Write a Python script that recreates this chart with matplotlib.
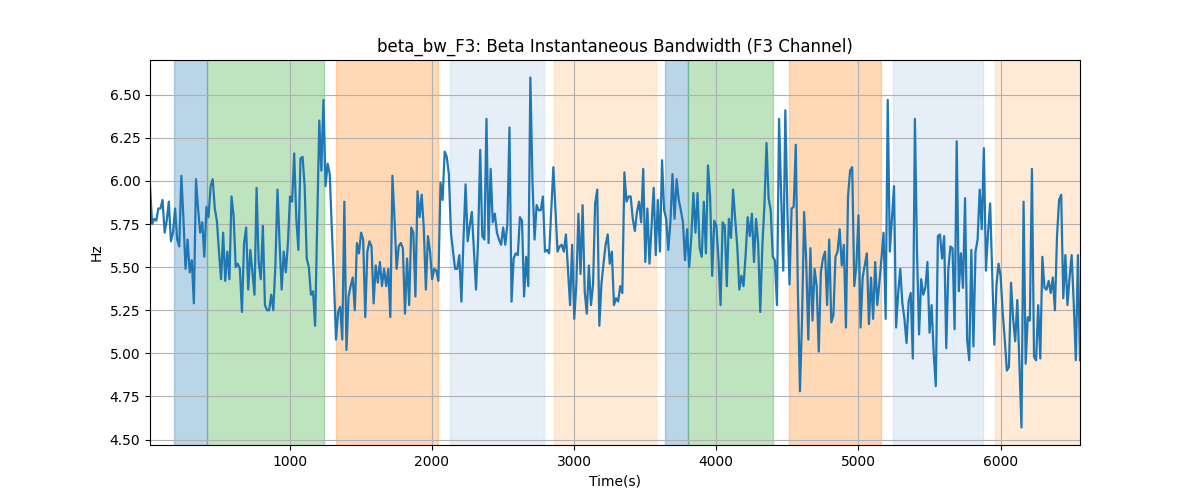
import numpy as np
import matplotlib
matplotlib.use("Agg")
import matplotlib.pyplot as plt

# ---- data ----
time_start = 17.0
time_step = 14.7

bandwidth_hz = [
    # segment 1
    5.97, 5.75, 5.78, 5.77, 5.84, 5.84, 5.89, 5.70, 5.77, 5.88, 5.65, 5.70, 5.84, 5.66, 5.62,
    6.03, 5.78, 5.49, 5.66, 5.47, 5.54, 5.29, 6.01, 5.84, 5.70, 5.76, 5.56, 5.85, 5.79, 5.97,
    6.01, 5.84, 5.77, 5.59, 5.43, 5.70, 5.42, 5.59, 5.43, 5.91, 5.80, 5.50, 5.52, 5.49, 5.24,
    5.64, 5.73, 5.37, 5.60, 5.47, 5.34, 5.96, 5.53, 5.43, 5.74,
    # segment 2
    5.28, 5.25, 5.25, 5.34, 5.25, 5.51, 5.95, 5.64, 5.37, 5.59, 5.47, 5.64, 5.91, 5.88, 6.16,
    5.78, 5.60, 6.13, 6.14, 5.97, 5.55, 5.50, 5.34, 5.36, 5.16, 5.74, 6.35, 6.06, 6.47, 5.97,
    6.10, 6.04, 5.72, 5.43, 5.08, 5.24, 5.27, 5.08, 5.88, 5.02, 5.33, 5.39, 5.44, 5.25, 5.64,
    5.58, 5.70, 5.66, 5.21, 5.59, 5.65, 5.62, 5.29, 5.51,
    # segment 3
    5.41, 5.53, 5.39, 5.49, 5.39, 5.49, 5.21, 6.03, 5.78, 5.49, 5.62, 5.64, 5.61, 5.23, 5.55,
    5.28, 5.73, 5.70, 5.33, 5.94, 5.79, 5.92, 5.73, 5.37, 5.68, 5.59, 5.43, 5.49, 5.48, 5.42,
    5.99, 5.89, 6.17, 6.14, 6.04, 5.70, 5.59, 5.49, 5.49, 5.57, 5.30, 5.66, 5.98, 5.65, 5.74,
    5.82, 5.60, 5.37, 5.66, 6.18, 5.68, 5.66, 6.36, 5.64, 6.07, 5.76, 5.81, 5.70, 5.66,
    # segment 4
    5.63, 5.73, 5.63, 5.75, 6.31, 5.30, 5.55, 5.58, 5.57, 5.79, 5.77, 5.33, 5.56, 5.39, 6.60,
    6.00, 5.66, 5.86, 5.83, 5.83, 5.91, 5.59, 5.60, 5.58, 5.83, 6.08, 5.83, 5.59, 5.62, 5.63,
    5.59, 5.69, 5.48, 5.28, 5.63, 5.20, 5.40, 5.81, 5.46, 5.86, 5.36, 5.23, 5.51, 5.28, 5.40,
    5.87, 5.95, 5.16, 5.40, 5.52, 5.63, 5.69, 5.52, 5.59, 5.28, 5.32,
    # segment 5
    5.30, 5.39, 5.35, 6.05, 5.88, 5.91, 5.91, 5.78, 5.71, 5.82, 5.88, 5.76, 6.07, 5.53, 5.84,
    5.52, 5.74, 5.96, 5.57, 5.89, 5.59, 6.12, 5.83, 5.78, 5.60, 5.76, 6.04, 5.78, 6.01, 5.89,
    5.83, 5.76, 5.54, 5.72, 5.50, 5.67, 5.93, 5.70, 5.93, 5.61, 5.56, 5.88, 5.58, 6.09, 5.91,
    5.45, 5.77, 5.74, 5.55, 5.28, 5.76, 5.74, 5.39, 5.78, 5.67, 5.95,
    # segment 6
    5.78, 5.62, 5.37, 5.45, 5.39, 5.57, 5.79, 5.68, 5.81, 5.53, 5.78, 5.64, 5.24, 5.62, 5.86,
    6.22, 5.90, 5.83, 5.56, 5.54, 5.28, 6.36, 5.93, 5.48, 6.41, 5.82, 5.40, 5.84, 5.85, 6.21,
    5.37, 4.78, 5.20, 5.82, 5.53, 5.08, 5.61, 5.19, 5.49, 5.39, 5.01, 5.47, 5.55, 5.59, 5.28,
    5.66, 5.18, 5.22, 5.56, 5.59, 5.72, 5.51, 5.63, 5.15, 5.91, 6.06,
    # segment 7
    6.08, 5.39, 5.51, 5.80, 5.15, 5.44, 5.51, 5.58, 5.17, 5.44, 5.20, 5.53, 5.28, 5.41, 5.55,
    5.70, 5.20, 6.47, 5.59, 5.78, 5.97, 5.15, 5.35, 5.49, 5.29, 5.20, 5.06, 5.30, 5.35, 4.97,
    6.36, 5.59, 5.11, 5.43, 5.34, 5.38, 5.53, 5.12, 5.28, 5.00, 4.81, 5.68, 5.69, 5.55, 5.68,
    5.03, 5.49, 5.62, 5.61, 5.14, 6.23, 5.36, 5.58, 5.38, 5.90,
    # segment 8
    5.08, 4.96, 5.60, 5.04, 5.59, 5.66, 5.95, 5.72, 6.19, 5.48, 5.70, 5.87, 5.45, 5.05, 5.39,
    5.52, 5.45, 5.24, 5.08, 4.90, 4.92, 5.41, 5.20, 5.07, 5.31, 4.93, 4.57, 5.88, 4.94, 5.21,
    5.19, 6.07, 4.98, 4.96, 5.28, 4.97, 5.56, 5.38, 5.37, 5.42, 5.35, 5.44, 5.25, 5.68, 5.89,
    5.92, 5.32, 5.57, 5.28, 5.44, 5.57, 5.29, 4.96, 5.57, 4.96,
]

span_starts = [185, 419, 1323, 2124, 2861, 3640, 3804, 4511, 5241, 5958]
span_ends = [419, 1239, 2044, 2791, 3577, 3804, 4397, 5162, 5873, 6600]
span_colors = ["#1f77b4", "#2ca02c", "#ff7f0e", "#aec7e8", "#ffbb78",
               "#1f77b4", "#2ca02c", "#ff7f0e", "#aec7e8", "#ffbb78"]

times = time_start + time_step * np.arange(len(bandwidth_hz))

fig, ax = plt.subplots(figsize=(12, 5), dpi=100)
for s, e, c in zip(span_starts, span_ends, span_colors):
    ax.axvspan(s, e, color=c, alpha=0.3)
ax.plot(times, bandwidth_hz, color="#1f77b4", linewidth=1.6)
ax.set_xlim(times[0], times[-1])
ax.set_yticks(np.arange(4.5, 6.51, 0.25))
ax.grid(True)
ax.set_title("beta_bw_F3: Beta Instantaneous Bandwidth (F3 Channel)")
ax.set_xlabel("Time(s)")
ax.set_ylabel("Hz")
fig.savefig("out.png", dpi=100)
